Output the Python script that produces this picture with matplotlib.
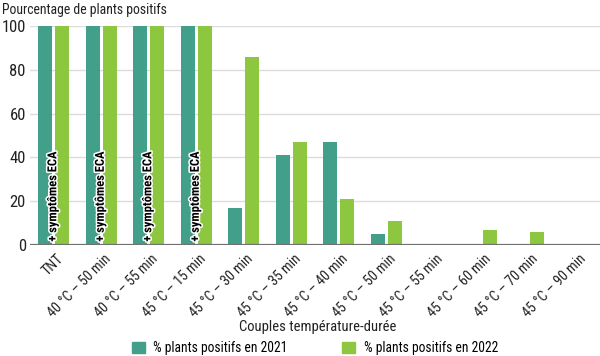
import numpy as np
import matplotlib
matplotlib.use("Agg")
import matplotlib.pyplot as plt
import matplotlib.patheffects as pe
from matplotlib.patches import Patch

categories = ["TNT", "40 °C – 50 min", "40 °C – 55 min", "45 °C – 15 min",
              "45 °C – 30 min", "45 °C – 35 min", "45 °C – 40 min", "45 °C – 50 min",
              "45 °C – 55 min", "45 °C – 60 min", "45 °C – 70 min", "45 °C – 90 min"]
pct_2021 = [100, 100, 100, 100, 17, 41, 47, 5, 0, 0, 0, 0]
pct_2022 = [100, 100, 100, 100, 86, 47, 21, 11, 0, 7, 6, 0]
annot_groups = [0, 1, 2, 3]
annot_text = "+ symptômes ECA"
yticks = [0, 20, 40, 60, 80, 100]

c2021 = "#42a08a"
c2022 = "#8dc63f"

plt.rcParams['font.family'] = ['Roboto Condensed', 'Roboto', 'DejaVu Sans']

fig = plt.figure(figsize=(6, 3.56), dpi=100)
ax = fig.add_axes([0.05, 0.312, 0.95, 0.615])

x = np.arange(len(categories))
w = 0.29
ax.bar(x - 0.18, pct_2021, w, color=c2021, zorder=2)
ax.bar(x + 0.18, pct_2022, w, color=c2022, zorder=2)

# annotation on the first four groups
for i in annot_groups:
    ax.text(i - 0.02, 1.5, annot_text, rotation=90, ha="center", va="bottom",
            fontsize=9, fontweight="bold", color="black", zorder=4,
            path_effects=[pe.withStroke(linewidth=2.2, foreground="white")])

ax.set_xlim(-0.5, len(categories) - 0.5)
ax.set_ylim(0, 100)
ax.set_yticks(yticks)
ax.yaxis.grid(True, color="#dcdcdc", linewidth=1, zorder=0)
ax.set_axisbelow(True)
for s in ax.spines.values():
    s.set_visible(False)
ax.axhline(0, color="#707070", linewidth=1.6, zorder=3)
ax.tick_params(axis="both", length=0, labelsize=12, colors="#222222")
ax.tick_params(axis="y", pad=3)
ax.set_xticks(x + 0.05)
ax.set_xticklabels(categories, rotation=45, ha="right", rotation_mode="anchor", fontsize=10.2)
ax.tick_params(axis="x", pad=5)

fig.text(0.003, 0.972, "Pourcentage de plants positifs", fontsize=9.9, va="center", ha="left", color="#222222")
fig.text(0.53, 0.081, "Couples température-durée", fontsize=10.5, ha="center", va="center", color="#222222")

handles = [Patch(color=c2021, label="% plants positifs en 2021"),
           Patch(color=c2022, label="% plants positifs en 2022")]
fig.legend(handles=handles, loc="center", bbox_to_anchor=(0.525, 0.022), ncol=2,
           frameon=False, fontsize=9.8, handlelength=0.97, handleheight=0.97,
           columnspacing=4.0, handletextpad=0.6)

fig.savefig("out.png", dpi=100)
